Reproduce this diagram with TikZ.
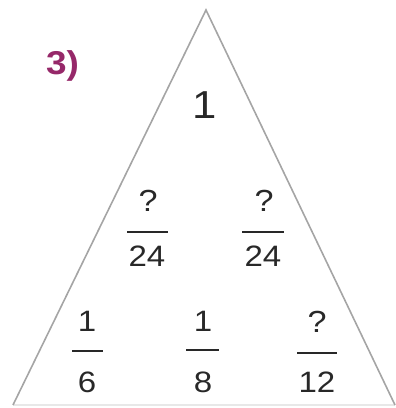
\documentclass[tikz,border=0pt]{standalone}
\usepackage{fontspec}
\setmainfont[FakeStretch=1.12]{Liberation Sans}
\usetikzlibrary{positioning}
\definecolor{edgegray}{RGB}{165,165,165}
\definecolor{basegray}{RGB}{232,232,232}
\definecolor{txtgray}{RGB}{40,40,40}
\definecolor{plum}{RGB}{150,40,105}

\begin{document}
\begin{tikzpicture}[x=1pt,y=1pt,
  digit/.style={anchor=base,text=txtgray,font=\fontsize{29.5}{30}\selectfont,inner sep=0pt},
  qmark/.style={digit,font=\fontsize{30.5}{31}\selectfont},
  bar/.style={draw=txtgray,line width=2pt}]
\useasboundingbox (0,0) rectangle (396,408);
\coordinate (top) at (206,398);
\coordinate (bl) at (13,3);
\coordinate (br) at (395,3);
\draw[basegray,line width=1.2pt] (bl)--(br);
\draw[edgegray,line width=1.6pt,line join=miter] (bl)--(top)--(br);
\node[anchor=base west,text=plum,font=\fontsize{33}{33}\selectfont\bfseries,inner sep=0pt] (num) at (46,333) {3)};
% top row
\node[digit,font=\fontsize{39}{39}\selectfont] (apex) at (205,289) {1};
% middle row
\node[qmark] (ln) at (148,196) {?};
\node[digit] (ld) at (147,141) {24};
\draw[bar] (127,176)--(168,176);
\node[qmark] (rn) at (264,196) {?};
\node[digit] (rd) at (263,141) {24};
\draw[bar] (242,176)--(284,176);
% bottom row
\node[digit] (an) at (87,76) {1};
\node[digit] (ad) at (87,16) {6};
\draw[bar] (72,57)--(103,57);
\node[digit] (bn) at (203,76) {1};
\node[digit] (bd) at (203,16) {8};
\draw[bar] (186,58)--(219,58);
\node[qmark] (cn) at (317,75) {?};
\node[digit] (cd) at (317,16) {12};
\draw[bar] (297,55)--(337,55);
\end{tikzpicture}
\end{document}
